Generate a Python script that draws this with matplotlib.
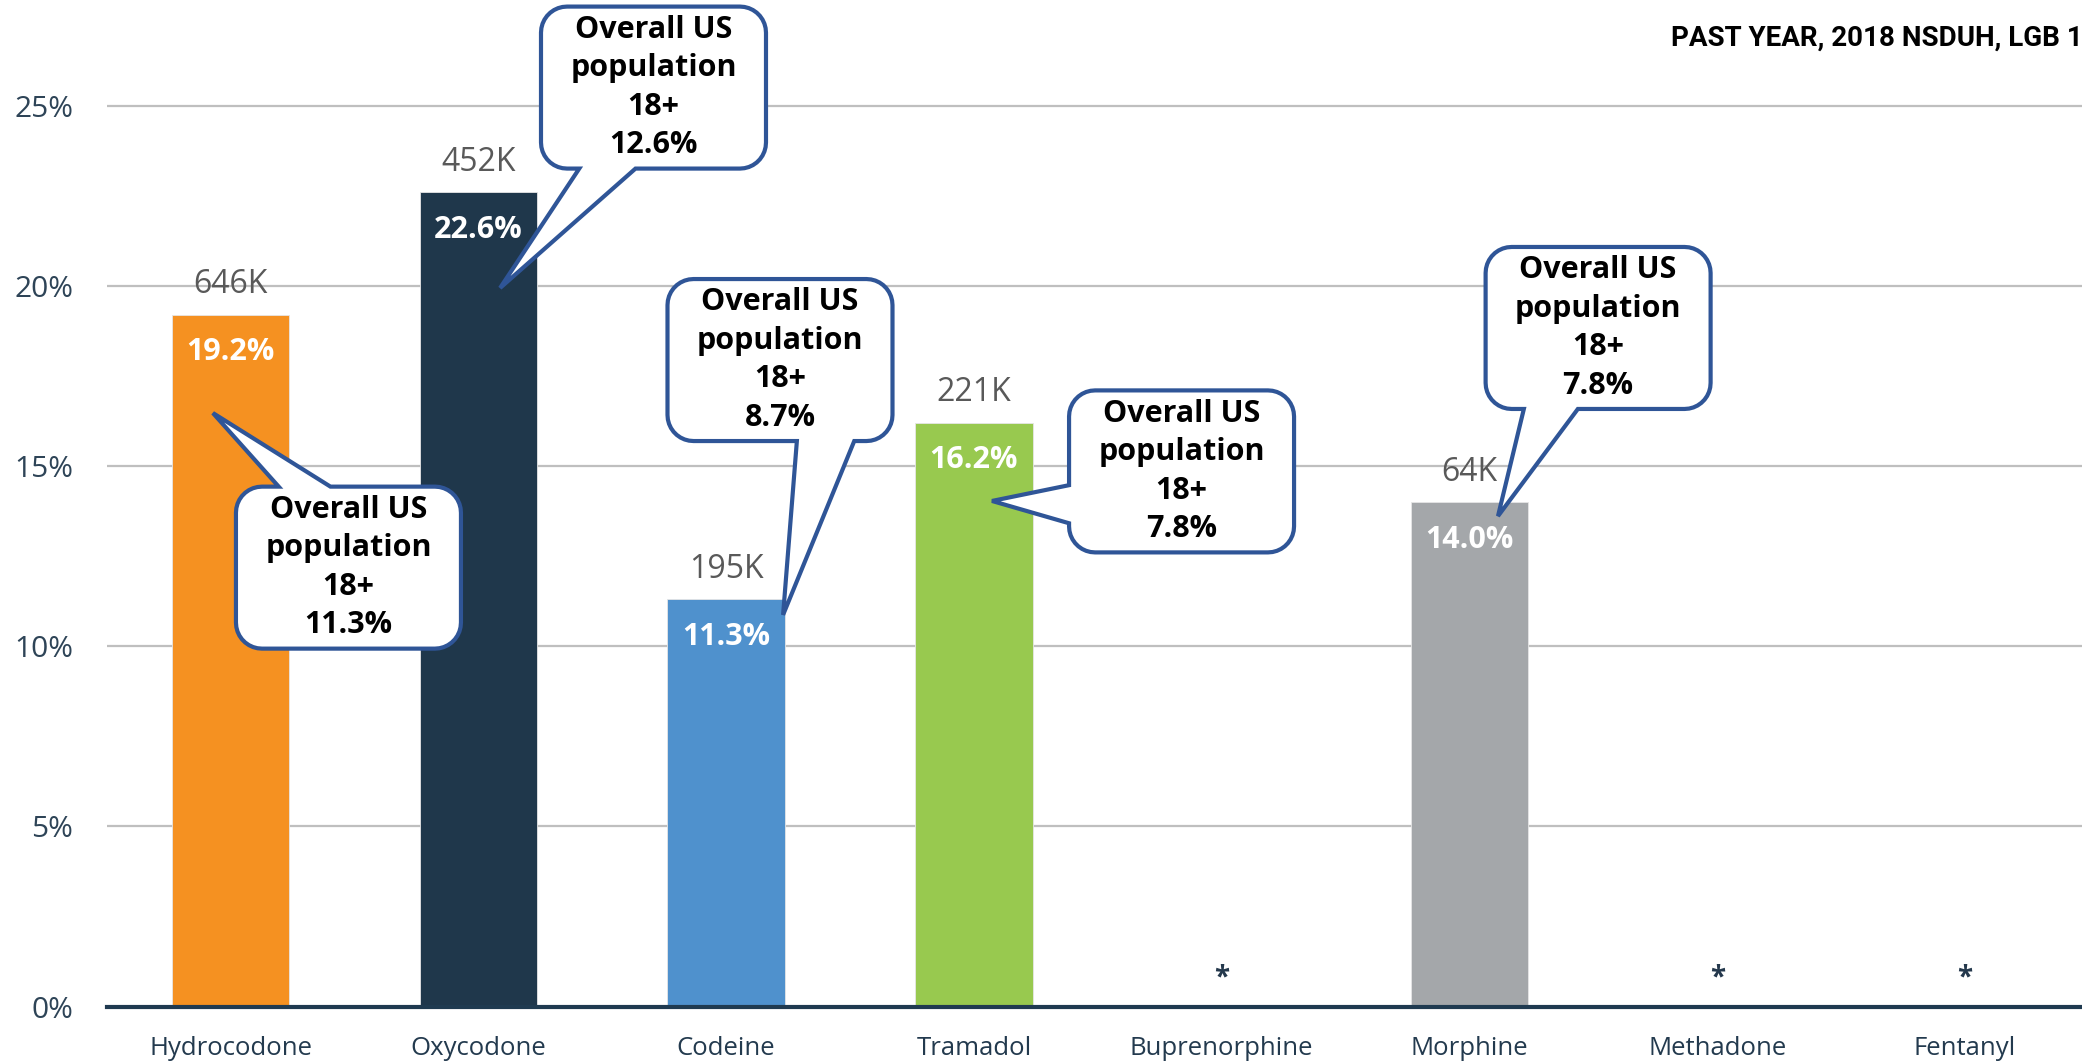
import numpy as np
import matplotlib
matplotlib.use("Agg")
import matplotlib.pyplot as plt
from matplotlib.patches import Polygon
from matplotlib.transforms import IdentityTransform

# ---- data ----
categories = ["Hydrocodone", "Oxycodone", "Codeine", "Tramadol",
              "Buprenorphine", "Morphine", "Methadone", "Fentanyl"]
misuse_pct = [19.2, 22.6, 11.3, 16.2, None, 14.0, None, None]
misuse_count = ["646K", "452K", "195K", "221K", None, "64K", None, None]
us_adult_pct = [11.3, 12.6, 8.7, 7.8, None, 7.8, None, None]
bar_colors = ["#F59121", "#1F374B", "#4F91CD", "#98C94F", None, "#A4A7AA", None, None]
y_ticks = [0, 5, 10, 15, 20, 25]
title = "PAST YEAR, 2018 NSDUH, LGB 1"

# callout layout: box centre (x in category units, y in %), side of the tail,
# tail base as fractions along that side, tail tip (x, y)
callout_layout = {
    0: dict(box=(0.476, 12.18), side="top", base=(0.19, 0.42), tip=(-0.071, 16.47)),
    1: dict(box=(1.707, 25.50), side="bottom", base=(0.17, 0.42), tip=(1.088, 19.94)),
    2: dict(box=(2.2175, 17.94), side="bottom", base=(0.575, 0.83), tip=(2.23, 10.87)),
    3: dict(box=(3.838, 14.85), side="left", base=(0.585, 0.82), tip=(3.073, 14.03)),
    5: dict(box=(5.519, 18.83), side="bottom", base=(0.17, 0.41), tip=(5.115, 13.61)),
}

BASE_FONT = ["Open Sans", "DejaVu Sans"]
NAVY = "#24384C"
EDGE = "#2F5597"

W, H, DPI = 2082, 1063, 100
fig = plt.figure(figsize=(W / DPI, H / DPI), dpi=DPI)
fig.patch.set_facecolor("white")

ax = fig.add_axes([106.6 / W, 56.4 / H, (2089 - 106.6) / W, 1006.6 / H])
ax.set_xlim(-0.5, len(categories) - 0.5)
ax.set_ylim(0, 27.93)
ax.set_facecolor("white")

x = np.arange(len(categories))
for i, (v, c) in enumerate(zip(misuse_pct, bar_colors)):
    if v is None:
        ax.text(i, 0.6, "*", ha="center", va="baseline", fontsize=20,
                fontweight="bold", color=NAVY, family=BASE_FONT, zorder=4)
        continue
    ax.bar(i, v, width=0.474, color=c, edgecolor="#E6E6E6", linewidth=0.6, zorder=3)
    ax.annotate(misuse_count[i], (i, v), xytext=(0, 21.5), textcoords="offset points",
                ha="center", va="center", fontsize=23, color="#595959",
                family=BASE_FONT, zorder=4)
    ax.annotate(f"{v:.1f}%", (i, v), xytext=(0, -27), textcoords="offset points",
                ha="center", va="center", fontsize=22, fontweight="bold",
                color="white", family=BASE_FONT, zorder=4)

# axes styling
ax.set_yticks(y_ticks)
ax.set_yticklabels([f"{t}%" for t in y_ticks])
ax.set_xticks(x)
ax.set_xticklabels(categories)
ax.tick_params(axis="y", length=0, pad=24, labelsize=21.5, labelcolor="#2E4457")
ax.tick_params(axis="x", length=0, pad=21, labelsize=18.5, labelcolor="#233A4E")
for lab in ax.get_xticklabels() + ax.get_yticklabels():
    lab.set_family(BASE_FONT)
ax.yaxis.grid(True, color="#BFBFBF", linewidth=1.6, zorder=0)
ax.set_axisbelow(True)
for s in ["top", "right", "left"]:
    ax.spines[s].set_visible(False)
ax.spines["bottom"].set_color("#1F3A50")
ax.spines["bottom"].set_linewidth(3)
ax.spines["bottom"].set_zorder(5)


def arc(cx, cy, r, a0, a1, n=10):
    t = np.radians(np.linspace(a0, a1, n))
    return list(zip(cx + r * np.cos(t), cy + r * np.sin(t)))


def callout_vertices(cx, cy, w, h, r, side, f0, f1, tip):
    left, right = cx - w / 2, cx + w / 2
    bottom, top = cy - h / 2, cy + h / 2
    pts = []
    # top edge, left -> right
    pts += arc(left + r, top - r, r, 180, 90)
    if side == "top":
        pts += [(left + f0 * w, top), tip, (left + f1 * w, top)]
    pts += arc(right - r, top - r, r, 90, 0)
    pts += arc(right - r, bottom + r, r, 0, -90)
    # bottom edge, right -> left
    if side == "bottom":
        pts += [(left + f1 * w, bottom), tip, (left + f0 * w, bottom)]
    pts += arc(left + r, bottom + r, r, -90, -180)
    # left edge, bottom -> top
    if side == "left":
        pts += [(left, top - f1 * h), tip, (left, top - f0 * h)]
    return pts


BOX_W, BOX_H, RAD = 225, 162, 26
for i, lay in callout_layout.items():
    bx, by = ax.transData.transform(lay["box"])
    tx, ty = ax.transData.transform(lay["tip"])
    verts = callout_vertices(bx, by, BOX_W, BOX_H, RAD, lay["side"],
                             lay["base"][0], lay["base"][1], (tx, ty))
    poly = Polygon(verts, closed=True, facecolor="white", edgecolor=EDGE,
                   linewidth=3, joinstyle="miter", transform=IdentityTransform(),
                   clip_on=False, zorder=6)
    ax.add_artist(poly)
    ax.text(lay["box"][0], lay["box"][1],
            f"Overall US\npopulation\n18+\n{us_adult_pct[i]:.1f}%",
            ha="center", va="center", multialignment="center",
            fontsize=22, fontweight="bold", color="black", linespacing=1.37,
            family=BASE_FONT, zorder=7, clip_on=False)

fig.text(1671 / W, 1 - 38 / H, title, ha="left", va="center", fontsize=20,
         fontweight="bold", color="black",
         family=["Roboto", "Liberation Sans", "DejaVu Sans"])

fig.savefig("out.png", dpi=DPI, facecolor="white")
